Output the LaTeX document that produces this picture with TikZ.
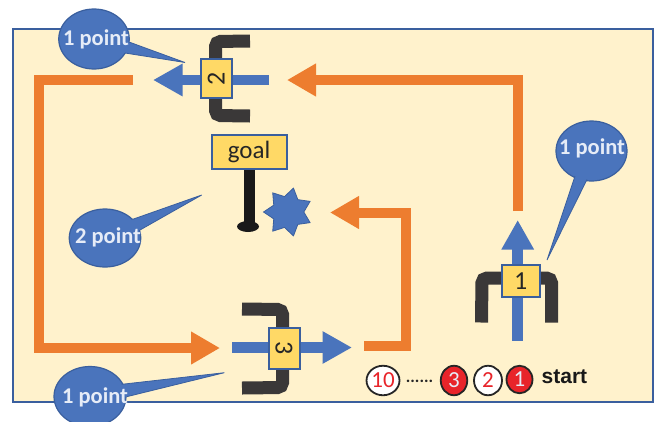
\documentclass[tikz,border=0pt]{standalone}
\usepackage{fontspec}
\setmainfont{Carlito}
\newfontfamily\arialfont{Liberation Sans}
\usetikzlibrary{arrows.meta,shapes.geometric}
\definecolor{panelfill}{HTML}{FFF2CC}
\definecolor{panelline}{HTML}{3A5F9E}
\definecolor{bluefill}{HTML}{4A74BC}
\definecolor{orangefill}{HTML}{ED7D2F}
\definecolor{yellowfill}{HTML}{FFD966}
\definecolor{darkgrip}{HTML}{3A3838}
\definecolor{redfill}{HTML}{E8242A}
\definecolor{softtext}{HTML}{E6ECF7}
\newcommand{\sz}[1]{\fontsize{#1}{#1}\selectfont}
\tikzset{
  flow/.style={draw=orangefill,line width=10pt,miter limit=10},
  flowtip/.style={flow,-{Triangle[length=29pt,width=31pt]}},
  shaft/.style={draw=bluefill,line width=10.5pt,-{Triangle[length=29.5pt,width=30.5pt]}},
  grip/.style={draw=darkgrip,line width=13pt,rounded corners=5pt},
  numbox/.style={draw=panelline,line width=2pt,fill=yellowfill,inner sep=0pt,font=\sz{26}\color{black!85}},
  bubble/.style={ellipse,draw=panelline,line width=1.2pt,fill=bluefill,inner sep=0pt,outer sep=0pt},
  bubbletext/.style={text=softtext,font=\sz{22.5}\bfseries,inner sep=0pt},
  tailfill/.style={fill=bluefill},
  tailline/.style={draw=panelline,line width=.8pt},
  token/.style={ellipse,draw=black!85,line width=1.8pt,inner sep=0pt,font=\sz{23}},
}
% name, centre, width, height, tip, base a, base b, text, text centre
\newcommand{\callout}[9]{%
  \node[bubble,minimum width=#3pt,minimum height=#4pt] (#1) at (#2) {};
  \coordinate (#1tip) at (#5);
  \coordinate (#1a) at (#6);
  \coordinate (#1b) at (#7);
  \fill[tailfill] (#1tip) -- (#1a) -- (#1.center) -- (#1b) -- cycle;
  \draw[tailline] (#1a) -- (#1tip) -- (#1b);
  \node[bubbletext] (#1text) at (#9) {#8};
}
\begin{document}
\begin{tikzpicture}[x=1pt,y=-1pt]
\useasboundingbox (0,0) rectangle (655,421);
% panel
\node[draw=panelline,line width=2pt,fill=panelfill,minimum width=640pt,minimum height=373.5pt,inner sep=0pt,outer sep=0pt] (panel) at (333,215.7) {};
\coordinate (ledgeA) at (431,402.2);
\coordinate (ledgeB) at (543,402.2);
\draw[panelline,line width=2.4pt] (ledgeA) -- (ledgeB);

% orange connectors
\coordinate (o1a) at (133,80);
\coordinate (o1b) at (38.5,80);
\coordinate (o1c) at (38.5,348);
\coordinate (o1d) at (220,348);
\draw[flowtip] (o1a) -- (o1b) -- (o1c) -- (o1d);
\coordinate (o2a) at (518,211);
\coordinate (o2b) at (518,80);
\coordinate (o2c) at (287,80);
\draw[flowtip] (o2a) -- (o2b) -- (o2c);
\coordinate (o3a) at (364,346);
\coordinate (o3b) at (405.5,346);
\coordinate (o3c) at (405.5,212.5);
\coordinate (o3d) at (330,212.5);
\draw[flowtip] (o3a) -- (o3b) -- (o3c) -- (o3d);

% robot 2
\coordinate (g2a) at (250,41);
\coordinate (g2b) at (215.5,41.5);
\coordinate (g2c) at (215.5,115.5);
\coordinate (g2d) at (250,116);
\draw[grip] (g2a) -- (g2b) -- (g2c) -- (g2d);
\coordinate (s2a) at (269,80);
\coordinate (s2b) at (153,80);
\draw[shaft] (s2a) -- (s2b);
\node[numbox,minimum width=31pt,minimum height=39pt] (r2) at (216.2,78.8) {\rotatebox{90}{2}};

% robot 3
\coordinate (g3a) at (242,309);
\coordinate (g3b) at (282.5,309.5);
\coordinate (g3c) at (282.5,387.5);
\coordinate (g3d) at (242,388);
\draw[grip] (g3a) -- (g3b) -- (g3c) -- (g3d);
\coordinate (s3a) at (232,347.5);
\coordinate (s3b) at (352,347.5);
\draw[shaft] (s3a) -- (s3b);
\node[numbox,minimum width=31pt,minimum height=41pt] (r3) at (284,348) {\rotatebox{-90}{3}};

% robot 1
\coordinate (g1a) at (481.5,322.5);
\coordinate (g1b) at (482,278);
\coordinate (g1c) at (551.5,278);
\coordinate (g1d) at (551.5,322.5);
\draw[grip] (g1a) -- (g1b) -- (g1c) -- (g1d);
\coordinate (s1a) at (517.7,340.7);
\coordinate (s1b) at (517.7,220);
\draw[shaft] (s1a) -- (s1b);
\node[numbox,minimum width=38pt,minimum height=31.5pt] (r1) at (520.8,281) {1};

% goal
\node[fill=black!90,minimum width=11pt,minimum height=58pt,inner sep=0pt] (post) at (249,197) {};
\node[ellipse,fill=black!90,minimum width=22pt,minimum height=11pt,inner sep=0pt] (foot) at (248,226.5) {};
\node[draw=panelline,line width=2pt,fill=yellowfill,minimum width=75pt,minimum height=34pt,inner sep=0pt,font=\sz{25}\color{black!85}] (goal) at (249,152) {goal};
\node[star,star points=7,star point ratio=1.55,shape border rotate=90,draw=panelline,line width=.8pt,fill=bluefill,minimum size=49pt,inner sep=0pt] (burst) at (288,212) {};

% callouts
\callout{c1}{591.5,151}{71}{60}{547,260}{575,176}{587,179.5}{1 point}{592,148}
\callout{c2}{94,39}{70.5}{60}{185,62.5}{129,42}{125,53}{1 point}{96,39}
\callout{c3}{105,238}{71.5}{58}{201.7,195}{132.7,219.3}{140,230}{2 point}{108,237}
\callout{c4}{90,396.5}{72}{60}{224.3,372.7}{121.7,384.3}{126.7,396.7}{1 point}{95,397}

% tokens
\node[token,fill=white,text=redfill,minimum width=28.5pt,minimum height=29.5pt] (t10) at (383,380.5) {10};
\node[font=\sz{17}\bfseries,text=black!85,inner sep=0pt] (tdots) at (419.5,381) {......};
\node[token,fill=redfill,text=softtext,minimum width=26.5pt,minimum height=29.5pt] (t3) at (454,380.5) {3};
\node[token,fill=white,text=redfill,minimum width=28pt,minimum height=29.5pt] (t2) at (488,380.5) {2};
\node[token,fill=redfill,text=softtext,minimum width=26pt,minimum height=27.5pt] (t1) at (519.5,379.5) {1};
\node[font=\arialfont\sz{21}\bfseries,text=black!90,inner sep=0pt,anchor=west] (startlabel) at (541.5,377) {start};
\end{tikzpicture}
\end{document}
